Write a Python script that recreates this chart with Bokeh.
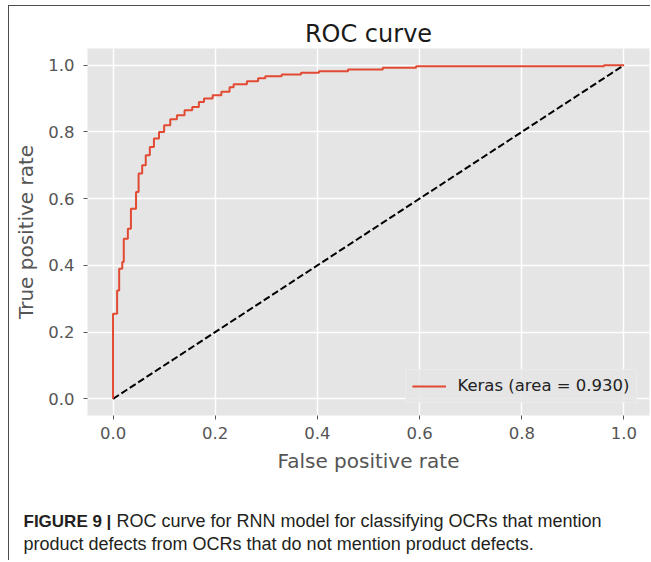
from bokeh.plotting import figure
from bokeh.models import Range1d, Div
from bokeh.layouts import column
from bokeh.embed import file_html
from bokeh.resources import INLINE

# ---- data ----
fpr = [0.000, 0.000, 0.008, 0.008, 0.012, 0.012, 0.018, 0.018, 0.021, 0.021,
       0.029, 0.029, 0.035, 0.035, 0.045, 0.045, 0.050, 0.050, 0.057, 0.057,
       0.064, 0.064, 0.072, 0.072, 0.080, 0.080, 0.090, 0.090, 0.100, 0.100,
       0.112, 0.112, 0.125, 0.125, 0.140, 0.140, 0.155, 0.155, 0.168, 0.168,
       0.178, 0.178, 0.195, 0.195, 0.212, 0.212, 0.228, 0.228, 0.236, 0.236,
       0.262, 0.262, 0.284, 0.284, 0.298, 0.298, 0.330, 0.330, 0.368, 0.368,
       0.403, 0.403, 0.460, 0.460, 0.528, 0.528, 0.593, 0.593, 0.961, 0.961,
       1.000]
tpr = [0.000, 0.255, 0.255, 0.325, 0.325, 0.390, 0.390, 0.410, 0.410, 0.480,
       0.480, 0.510, 0.510, 0.570, 0.570, 0.620, 0.620, 0.675, 0.675, 0.700,
       0.700, 0.730, 0.730, 0.755, 0.755, 0.780, 0.780, 0.800, 0.800, 0.820,
       0.820, 0.838, 0.838, 0.850, 0.850, 0.865, 0.865, 0.875, 0.875, 0.890,
       0.890, 0.900, 0.900, 0.910, 0.910, 0.920, 0.920, 0.934, 0.934, 0.943,
       0.943, 0.952, 0.952, 0.961, 0.961, 0.967, 0.967, 0.972, 0.972, 0.977,
       0.977, 0.982, 0.982, 0.987, 0.987, 0.992, 0.992, 0.997, 0.997, 1.000,
       1.000]
chance_x = [0.0, 1.0]
chance_y = [0.0, 1.0]
auc_value = 0.930
model_name = "Keras"
tick_values = [0.0, 0.2, 0.4, 0.6, 0.8, 1.0]
tick_labels = ["0.0", "0.2", "0.4", "0.6", "0.8", "1.0"]
title_text = "ROC curve"
x_label = "False positive rate"
y_label = "True positive rate"
caption_bold = "FIGURE 9 |"
caption_line1 = "ROC curve for RNN model for classifying OCRs that mention"
caption_line2 = "product defects from OCRs that do not mention product defects."

MPL_FONT = "DejaVu Sans"
CAP_FONT = "Liberation Sans"
CAP_COLOR = "#231F20"

p = figure(width=641, height=478, output_backend="svg", toolbar_location=None,
           x_range=Range1d(-0.05, 1.05), y_range=Range1d(-0.05, 1.05),
           min_border_left=78, min_border_right=1, min_border_top=42,
           min_border_bottom=69,
           background_fill_color="#E5E5E5", border_fill_color="white")
p.outline_line_color = None

# title
p.title.text = title_text
p.title.align = "center"
p.title.text_font = MPL_FONT
p.title.text_font_size = "24px"
p.title.text_font_style = "normal"
p.title.text_color = "#1a1a1a"
p.title.standoff = 2

# axes
p.xaxis.ticker = tick_values
p.yaxis.ticker = tick_values
p.xaxis.major_label_overrides = {v: s for v, s in zip(tick_values, tick_labels)}
p.yaxis.major_label_overrides = {v: s for v, s in zip(tick_values, tick_labels)}
p.xaxis.axis_label = x_label
p.yaxis.axis_label = y_label
for ax in (p.xaxis, p.yaxis):
    ax.axis_line_color = None
    ax.major_tick_line_color = "#555555"
    ax.major_tick_line_width = 1
    ax.major_tick_in = 0
    ax.major_tick_out = 4
    ax.minor_tick_line_color = None
    ax.major_label_text_font = MPL_FONT
    ax.major_label_text_font_size = "16.5px"
    ax.major_label_text_color = "#555555"
    ax.axis_label_text_font = MPL_FONT
    ax.axis_label_text_font_size = "20px"
    ax.axis_label_text_font_style = "normal"
    ax.axis_label_text_color = "#555555"
p.xaxis.major_label_standoff = 7
p.yaxis.major_label_standoff = 9
p.xaxis.axis_label_standoff = 7
p.yaxis.axis_label_standoff = 7

p.grid.grid_line_color = "white"
p.grid.grid_line_width = 1.5

# marks
p.line(chance_x, chance_y, line_color="black", line_width=2, line_dash="7 3")
p.line(fpr, tpr, line_color="#E24A33", line_width=2,
       legend_label=f"{model_name} (area = {auc_value:.3f})")

lg = p.legend[0]
lg.location = "bottom_right"
lg.margin = 12
lg.padding = 6
lg.spacing = 0
lg.glyph_width = 34
lg.glyph_height = 20
lg.label_standoff = 12
lg.label_height = 20
lg.label_text_font = MPL_FONT
lg.label_text_font_size = "16.5px"
lg.label_text_color = "#222222"
lg.background_fill_color = "#E5E5E5"
lg.background_fill_alpha = 0.8
lg.border_line_color = "#F2F2F2"
lg.border_line_width = 1

# caption below the chart
caption_html = (
    f'<div style="padding:26px 0 0 15px; font-family:\'{CAP_FONT}\'; '
    f'font-size:18px; line-height:22px; color:{CAP_COLOR}; white-space:nowrap;">'
    f'<b style="font-size:17px;">{caption_bold}</b> {caption_line1}<br>'
    f'{caption_line2}</div>'
)
cap = Div(text=caption_html, width=641, height=76, margin=(0, 0, 0, 0))

layout = column(p, cap, spacing=0,
                styles={"border-left": "1.5px solid #4d4d4d",
                        "border-top": "1.5px solid #4d4d4d",
                        "margin-left": "7.5px", "margin-top": "4.5px"})

open("out.html", "w").write(file_html(layout, INLINE))
